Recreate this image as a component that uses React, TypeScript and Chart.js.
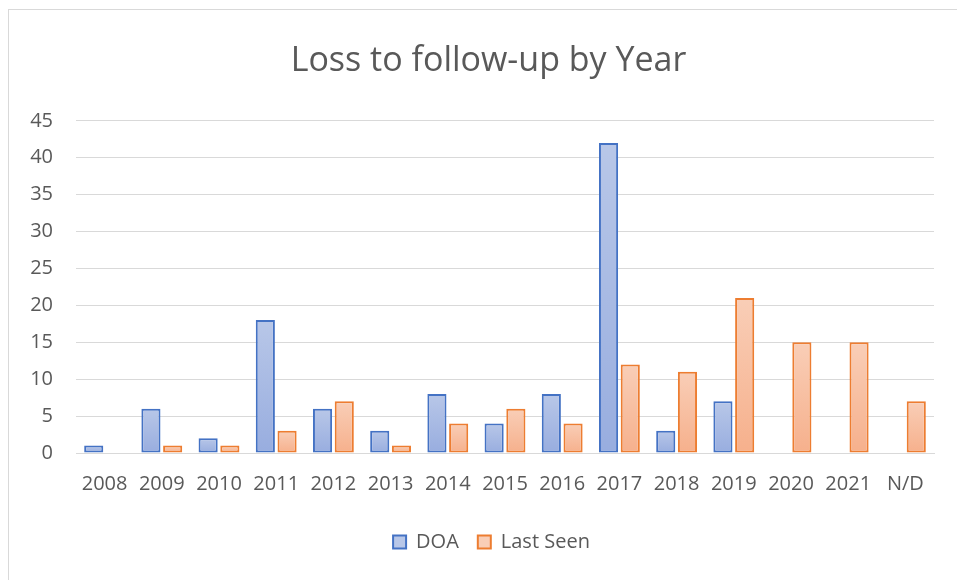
import React, { useEffect, useRef } from "react";
import { Chart, registerables } from "chart.js";

Chart.register(...registerables);

const chartTitle = "Loss to follow-up by Year";
const categories = ["2008", "2009", "2010", "2011", "2012", "2013", "2014", "2015", "2016", "2017", "2018", "2019", "2020", "2021", "N/D"];
const doaValues = [1, 6, 2, 18, 6, 3, 8, 4, 8, 42, 3, 7, 0, 0, 0];
const lastSeenValues = [0, 1, 1, 3, 7, 1, 4, 6, 4, 12, 11, 21, 15, 15, 7];
const seriesNames = ["DOA", "Last Seen"];
const yMin = 0;
const yMax = 45;
const yStep = 5;

const FONT = "'Open Sans', 'Noto Sans', sans-serif";
const TEXT = "#595959";
const GRID = "#d9d9d9";

const BLUE_BORDER = "#4472C4";
const BLUE_TOP = "rgb(184,199,232)";
const BLUE_BOTTOM = "rgb(152,173,223)";
const ORANGE_BORDER = "#ED7D31";
const ORANGE_TOP = "rgb(249,206,183)";
const ORANGE_BOTTOM = "rgb(246,176,140)";

function makeFill(top: string, bottom: string) {
  return (ctx: any) => {
    const chart = ctx.chart;
    const y = chart.scales && chart.scales.y;
    if (!y || ctx.type !== "data" || typeof ctx.raw !== "number") return bottom;
    const y0 = y.getPixelForValue(0);
    const y1 = y.getPixelForValue(ctx.raw);
    if (!isFinite(y0) || !isFinite(y1) || Math.abs(y0 - y1) < 1) return bottom;
    const g = chart.ctx.createLinearGradient(0, y1, 0, y0);
    g.addColorStop(0, top);
    g.addColorStop(1, bottom);
    return g;
  };
}

const shiftBlocks = {
  id: "shiftBlocks",
  afterLayout(chart: any) {
    if (chart.titleBlock) chart.titleBlock.left = 34;
    if (chart.legend) chart.legend.left = 40;
  },
};

export default function App() {
  const ref = useRef<HTMLCanvasElement | null>(null);

  useEffect(() => {
    if (!ref.current) return;
    const chart = new Chart(ref.current, {
      type: "bar",
      data: {
        labels: categories,
        datasets: [
          {
            label: seriesNames[0],
            data: doaValues,
            backgroundColor: makeFill(BLUE_TOP, BLUE_BOTTOM),
            borderColor: BLUE_BORDER,
            borderWidth: 2,
            borderSkipped: false,
            categoryPercentage: 0.76,
            barPercentage: 0.88,
          },
          {
            label: seriesNames[1],
            data: lastSeenValues,
            backgroundColor: makeFill(ORANGE_TOP, ORANGE_BOTTOM),
            borderColor: ORANGE_BORDER,
            borderWidth: 2,
            borderSkipped: false,
            categoryPercentage: 0.76,
            barPercentage: 0.88,
          },
        ],
      },
      options: {
        responsive: false,
        animation: false,
        layout: { padding: { left: 0, right: 23, top: 0, bottom: 18 } },
        plugins: {
          title: {
            display: true,
            text: chartTitle,
            color: TEXT,
            font: { family: FONT, size: 34, weight: "normal" },
            padding: { top: 31, bottom: 39 },
          },
          legend: {
            position: "bottom",
            labels: {
              color: TEXT,
              font: { family: FONT, size: 20 },
              boxWidth: 13,
              boxHeight: 13,
              padding: 19,
              generateLabels: (c: any) => {
                const items = Chart.defaults.plugins.legend.labels.generateLabels(c);
                const fills = [BLUE_TOP, ORANGE_TOP];
                items.forEach((it: any, i: number) => {
                  it.fillStyle = fills[i];
                  it.strokeStyle = i === 0 ? BLUE_BORDER : ORANGE_BORDER;
                  it.lineWidth = 2;
                });
                return items;
              },
            },
          },
          tooltip: { enabled: false },
        },
        scales: {
          x: {
            grid: { display: false, drawTicks: false },
            border: { display: true, color: GRID, width: 1 },
            ticks: {
              color: TEXT,
              font: { family: FONT, size: 20 },
              padding: 19,
              maxRotation: 0,
              autoSkip: false,
            },
            afterFit: (axis: any) => {
              axis.height = 60;
            },
          },
          y: {
            min: yMin,
            max: yMax,
            grid: { color: GRID, lineWidth: 1, drawTicks: false },
            border: { display: false },
            ticks: {
              stepSize: yStep,
              color: TEXT,
              font: { family: FONT, size: 20 },
              padding: 23,
            },
            afterFit: (axis: any) => {
              axis.width = 67;
            },
          },
        },
      },
      plugins: [shiftBlocks],
    });
    return () => chart.destroy();
  }, []);

  return (
    <div
      style={{
        position: "fixed",
        left: 8,
        top: 9,
        right: 0,
        bottom: 0,
        borderTop: "1px solid #d9d9d9",
        borderLeft: "1px solid #d9d9d9",
        background: "#fff",
        overflow: "hidden",
      }}
    >
      <canvas ref={ref} width={948} height={570} style={{ display: "block" }} />
    </div>
  );
}
